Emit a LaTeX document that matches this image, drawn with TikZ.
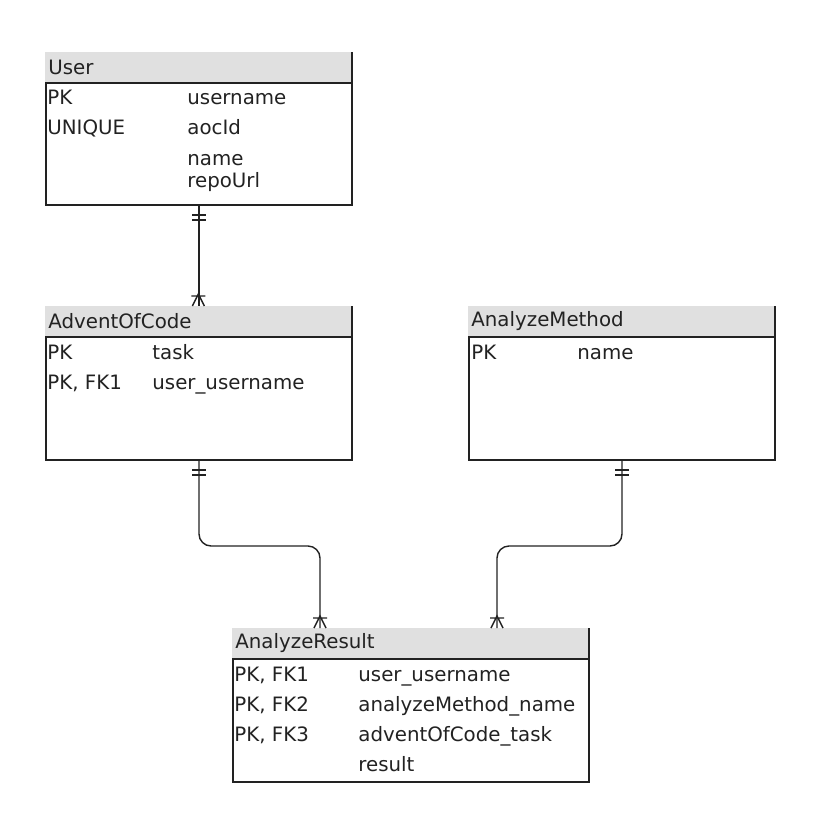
\documentclass[tikz,border=0pt]{standalone}
\usepackage{fontspec}
\setmainfont{DejaVu Sans}
\usetikzlibrary{positioning}
\definecolor{hdgray}{HTML}{E0E0E0}
\definecolor{ink}{HTML}{222222}
\tikzset{
  hd/.style   ={fill=hdgray, anchor=north west, minimum height=15pt, inner xsep=1.5pt, inner ysep=0pt, text width=#1, align=left, font=\fontsize{9.9}{12}\selectfont, text=ink},
  tb/.style   ={draw=ink, line width=1pt, anchor=north west, inner sep=0pt},
  fd/.style   ={anchor=west, inner sep=0pt, font=\fontsize{9.9}{12}\selectfont, text=ink, text height=1.6ex, text depth=.3ex},
  rel/.style  ={draw=ink, line width=.7pt},
  mandone/.pic={\draw[rel] (-3.5pt,-4.5pt) -- (3.5pt,-4.5pt) (-3.5pt,-7pt) -- (3.5pt,-7pt);},
  crowfoot/.pic={\draw[rel] (-3.5pt,5pt) -- (3.5pt,5pt) (-3pt,0pt) -- (0pt,6pt) -- (3pt,0pt);}
}
\begin{document}
\begin{tikzpicture}[x=0.5pt,y=-0.5pt]
\useasboundingbox (0,0) rectangle (820,820);

\node[hd=150pt] (user-h) at (45,52) {User};
\node[tb, minimum width=153pt, minimum height=61pt] (user) at (45,82) {};
\draw[ink, line width=1pt] (user-h.north east) -- (user-h.south east);
\node[fd] (u1k) at (47,97) {PK};
\node[fd] (u1f) at (187,97) {username};
\node[fd] (u2k) at (47,127) {UNIQUE};
\node[fd] (u2f) at (187,127) {aocId};
\node[fd] (u3f) at (187,158) {name};
\node[fd] (u4f) at (187,180) {repoUrl};

\node[hd=150pt] (aoc-h) at (45,306) {AdventOfCode};
\node[tb, minimum width=153pt, minimum height=61.5pt] (aoc) at (45,336) {};
\draw[ink, line width=1pt] (aoc-h.north east) -- (aoc-h.south east);
\node[fd] (a1k) at (47,352) {PK};
\node[fd] (a1f) at (152,352) {task};
\node[fd] (a2k) at (47,382) {PK, FK1};
\node[fd] (a2f) at (152,382) {user\_username};

\node[hd=150pt] (am-h) at (468,306) {AnalyzeMethod};
\node[tb, minimum width=153pt, minimum height=61.5pt] (am) at (468,336) {};
\draw[ink, line width=1pt] (am-h.north east) -- (am-h.south east);
\node[fd] (m1k) at (471,352) {PK};
\node[fd] (m1f) at (577,352) {name};

\node[hd=175pt] (res-h) at (232,628) {AnalyzeResult};
\node[tb, minimum width=178pt, minimum height=61.5pt] (res) at (232,658) {};
\draw[ink, line width=1pt] (res-h.north east) -- (res-h.south east);
\node[fd] (r1k) at (234,674) {PK, FK1};
\node[fd] (r1f) at (358,674) {user\_username};
\node[fd] (r2k) at (234,704) {PK, FK2};
\node[fd] (r2f) at (358,704) {analyzeMethod\_name};
\node[fd] (r3k) at (234,734) {PK, FK3};
\node[fd] (r3f) at (358,734) {adventOfCode\_task};
\node[fd] (r4f) at (358,764) {result};

\coordinate (r1) at ([xshift=44pt]res-h.north west);
\coordinate (r2) at ([xshift=132.5pt]res-h.north west);

\draw[rel] (user.south) -- (user.south |- aoc-h.north);
\draw[rel, rounded corners=6pt] (aoc.south) -- ++(0,85) -| (r1);
\draw[rel, rounded corners=6pt] (am.south) -- ++(0,85) -| (r2);

\pic at (user.south) {mandone};
\pic at (aoc.south) {mandone};
\pic at (am.south) {mandone};
\pic at (aoc-h.north) {crowfoot};
\pic at (r1) {crowfoot};
\pic at (r2) {crowfoot};
\end{tikzpicture}
\end{document}
